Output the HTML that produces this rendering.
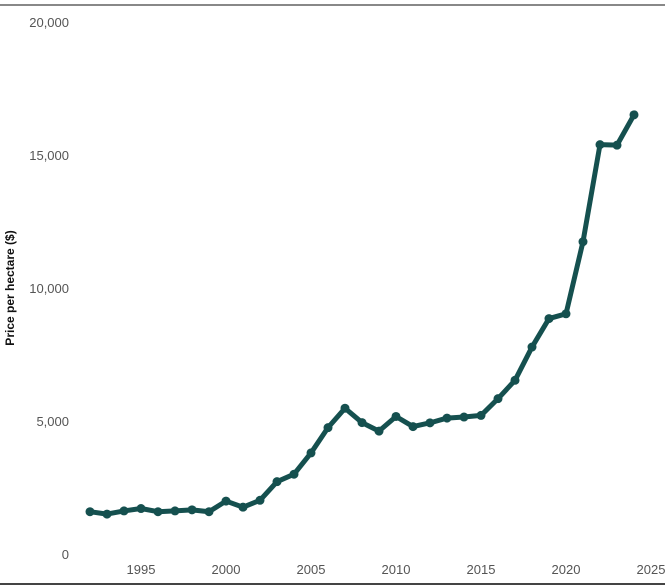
<!DOCTYPE html>
<html><head><meta charset="utf-8"><style>
body{margin:0;background:#fff;width:665px;height:586px;overflow:hidden}
svg{display:block;font-family:"Liberation Sans",sans-serif}
</style></head><body>
<svg id="chart" width="665" height="586">
<line x1="0" y1="5" x2="665" y2="5" stroke="#888" stroke-width="2"/>
<line x1="0" y1="584" x2="665" y2="584" stroke="#444" stroke-width="2"/>
<text x="14" y="288" transform="rotate(-90 14 288)" text-anchor="middle" font-size="12" font-weight="bold" fill="#111">Price per hectare ($)</text>
<g id="ticks"></g>
<g id="series"></g>
</svg>
<script>
const years=[1992,1993,1994,1995,1996,1997,1998,1999,2000,2001,2002,2003,2004,2005,2006,2007,2008,2009,2010,2011,2012,2013,2014,2015,2016,2017,2018,2019,2020,2021,2022,2023,2024];
const prices=[1590,1500,1620,1710,1590,1620,1660,1590,1990,1760,2020,2720,3000,3800,4750,5480,4940,4620,5170,4790,4930,5110,5150,5210,5840,6530,7780,8850,9030,11740,15390,15370,16510];
const yTicks=[0,5000,10000,15000,20000];
const yTickLabels=["0","5,000","10,000","15,000","20,000"];
const xTicks=[1995,2000,2005,2010,2015,2020,2025];
const NS="http://www.w3.org/2000/svg";
const xs=y=>141+(y-1995)*17;
const ys=v=>554-v*(532/20000);
const tg=document.getElementById('ticks');
yTicks.forEach((v,i)=>{
 const t=document.createElementNS(NS,'text');
 t.setAttribute('x',69);t.setAttribute('y',ys(v)+5);t.setAttribute('text-anchor','end');
 t.setAttribute('font-size','13');t.setAttribute('fill','#555');
 t.textContent=yTickLabels[i];
 
 
 tg.appendChild(t);
});
xTicks.forEach(v=>{
 const t=document.createElementNS(NS,'text');
 t.setAttribute('x',xs(v));t.setAttribute('y',574);t.setAttribute('text-anchor','middle');
 t.setAttribute('font-size','13');t.setAttribute('fill','#555');
 t.textContent=String(v);
 
 
 tg.appendChild(t);
});
const sg=document.getElementById('series');
const p=document.createElementNS(NS,'polyline');
p.setAttribute('points',years.map((y,i)=>xs(y)+','+ys(prices[i])).join(' '));
p.setAttribute('fill','none');p.setAttribute('stroke','#15504f');p.setAttribute('stroke-width','5');p.setAttribute('stroke-linejoin','round');


sg.appendChild(p);
years.forEach((y,i)=>{
 const c=document.createElementNS(NS,'circle');
 c.setAttribute('cx',xs(y));c.setAttribute('cy',ys(prices[i]));c.setAttribute('r',4.5);c.setAttribute('fill','#15504f');
 
 
 sg.appendChild(c);
});
</script>
</body></html>
